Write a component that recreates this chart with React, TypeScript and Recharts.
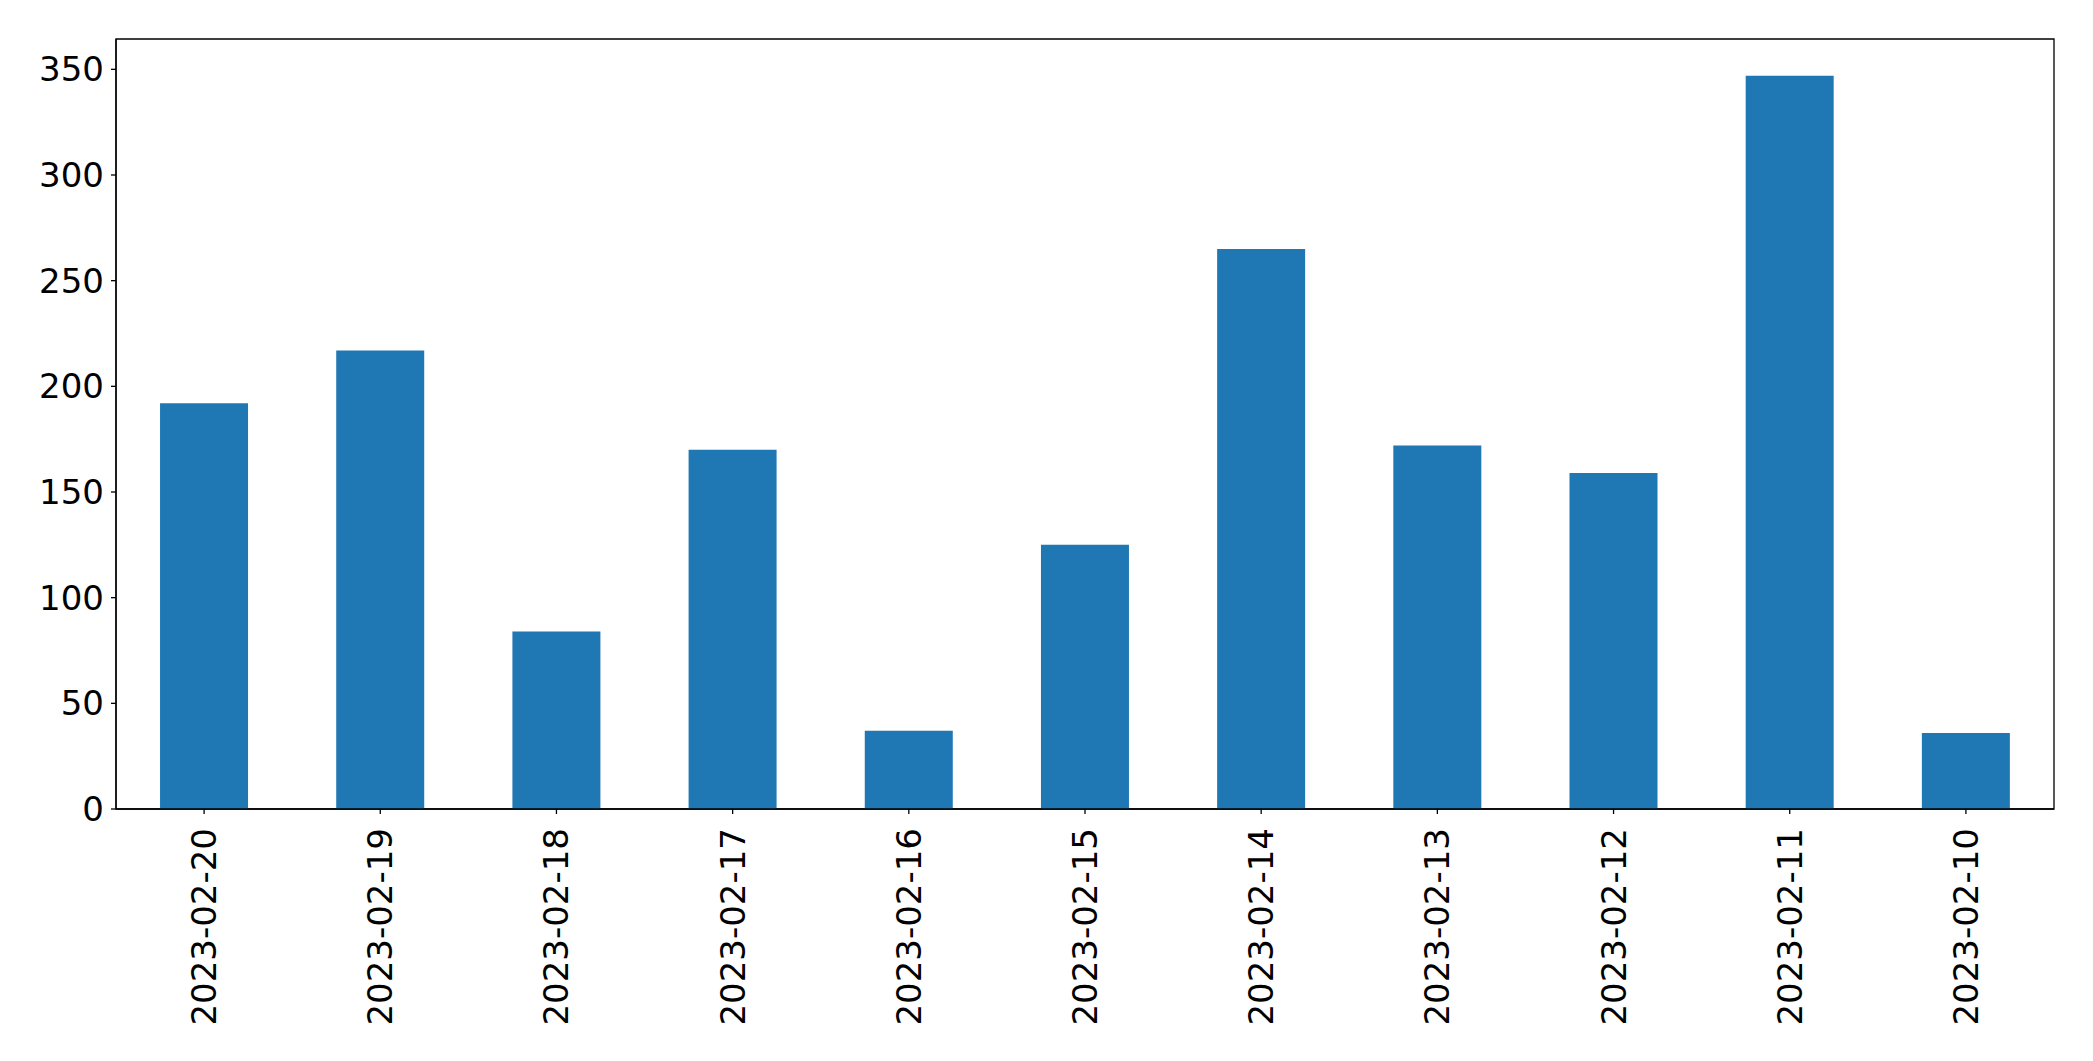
import React from "react";
import { BarChart, Bar, XAxis, YAxis, ReferenceArea } from "recharts";

const categories = [
  "2023-02-20",
  "2023-02-19",
  "2023-02-18",
  "2023-02-17",
  "2023-02-16",
  "2023-02-15",
  "2023-02-14",
  "2023-02-13",
  "2023-02-12",
  "2023-02-11",
  "2023-02-10",
];
const values = [192, 217, 84, 170, 37, 125, 265, 172, 159, 347, 36];
const yTicks = [0, 50, 100, 150, 200, 250, 300, 350];
const yMax = 364.35;

const data = categories.map((c, i) => ({ date: c, value: values[i] }));

const FONT = "DejaVu Sans";
const FS = 34;

const XTick = (props: any) => {
  const { x, y, payload } = props;
  return (
    <g transform={`translate(${x},${y})`}>
      <text
        transform="rotate(-90)"
        x={0}
        y={0}
        textAnchor="end"
        dominantBaseline="central"
        fontFamily={FONT}
        fontSize={FS}
        fill="#000"
      >
        {payload.value}
      </text>
    </g>
  );
};

export default function App() {
  return (
    <div style={{ width: 2077, height: 1045, background: "#fff" }}>
      <BarChart
        width={2077}
        height={1045}
        data={data}
        margin={{ top: 31, right: 31, bottom: 14, left: 8 }}
        barCategoryGap="25%"
      >
        <XAxis
          dataKey="date"
          interval={0}
          height={230}
          tickSize={5}
          tickMargin={14}
          tick={<XTick />}
          axisLine={{ stroke: "#000", strokeWidth: 1.3 }}
          tickLine={{ stroke: "#000", strokeWidth: 1.3 }}
        />
        <YAxis
          domain={[0, yMax]}
          ticks={yTicks}
          width={100}
          tickSize={5}
          tickMargin={7}
          allowDataOverflow
          tick={{ fontFamily: FONT, fontSize: FS, fill: "#000" }}
          axisLine={{ stroke: "#000", strokeWidth: 1.3 }}
          tickLine={{ stroke: "#000", strokeWidth: 1.3 }}
        />
        <Bar dataKey="value" fill="#1f77b4" isAnimationActive={false} />
        <ReferenceArea
          y1={0}
          y2={yMax}
          fill="none"
          fillOpacity={0}
          stroke="#000"
          strokeWidth={1.3}
          ifOverflow="visible"
        />
      </BarChart>
    </div>
  );
}
